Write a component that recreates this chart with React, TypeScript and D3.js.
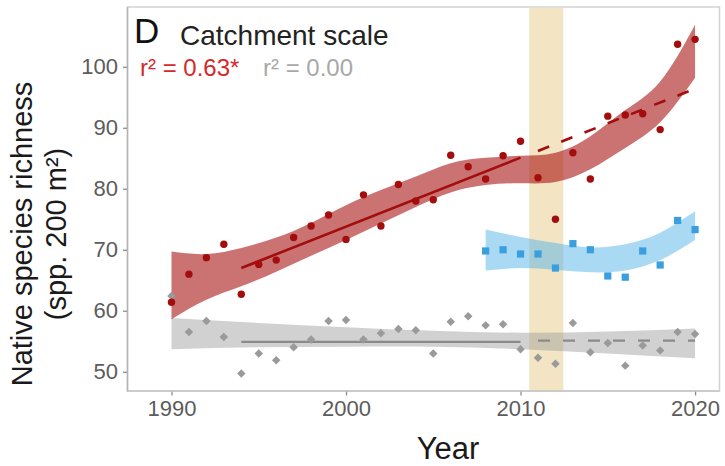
import { useEffect, useRef } from 'react'
import * as d3 from 'd3'

// Native species richness, catchment scale
const redYears = [1990, 1991, 1992, 1993, 1994, 1995, 1996, 1997, 1998, 1999, 2000, 2001, 2002, 2003, 2004, 2005, 2006, 2007, 2008, 2009, 2010, 2011, 2012, 2013, 2014, 2015, 2016, 2017, 2018, 2019, 2020]
const redValues = [61.4, 66.0, 68.7, 70.9, 62.7, 67.6, 68.3, 72.0, 73.9, 75.7, 71.7, 79.0, 73.9, 80.7, 78.0, 78.2, 85.5, 83.6, 81.6, 85.4, 87.8, 81.8, 75.0, 85.9, 81.6, 91.9, 92.1, 92.3, 89.7, 103.7, 104.5]

const grayYears = redYears
const grayValues = [62.4, 56.5, 58.3, 55.7, 49.7, 53.0, 51.9, 54.0, 55.3, 58.3, 58.5, 55.3, 56.3, 57.0, 56.8, 53.0, 58.2, 59.1, 57.6, 57.8, 53.7, 52.3, 51.3, 58.0, 53.2, 54.7, 51.0, 54.3, 53.5, 56.5, 56.2]

const blueYears = [2008, 2009, 2010, 2011, 2012, 2013, 2014, 2015, 2016, 2017, 2018, 2019, 2020]
const blueValues = [69.8, 70.0, 69.3, 69.3, 67.0, 71.0, 70.0, 65.7, 65.5, 69.8, 67.5, 74.8, 73.3]

// smoother confidence bands
const redBandYears = [1990, 1992, 1994, 1996, 1998, 2000, 2002, 2004, 2006, 2008, 2010, 2012, 2014, 2016, 2018, 2020]
const redBandLow = [58.6, 61.8, 64.0, 66.4, 69.0, 71.6, 74.3, 77.0, 79.4, 80.6, 80.9, 81.1, 83.2, 86.7, 90.9, 98.2]
const redBandHigh = [69.7, 69.3, 70.3, 72.0, 74.4, 77.3, 79.8, 82.0, 84.2, 85.1, 85.4, 85.9, 88.6, 92.9, 97.6, 106.9]

const blueBandYears = [2008, 2010, 2012, 2014, 2016, 2018, 2020]
const blueBandLow = [66.6, 67.0, 66.7, 66.3, 66.6, 68.3, 71.6]
const blueBandHigh = [73.3, 72.1, 71.1, 70.4, 70.9, 72.8, 76.3]

const grayBandYears = [1990, 1995, 2000, 2005, 2010, 2015, 2020]
const grayBandLow = [53.7, 54.0, 54.1, 54.1, 53.7, 53.0, 52.2]
const grayBandHigh = [58.8, 58.0, 57.3, 56.7, 56.4, 56.6, 57.1]

// linear trends: fitted period (solid) and projection (dashed)
const redTrendFit = [[1994, 67.0], [2010, 85.1]]
const redTrendProj = [[2011, 86.2], [2020, 96.4]]
const grayTrendFit = [[1994, 54.9], [2010, 54.9]]
const grayTrendProj = [[2011, 55.1], [2020, 55.1]]

const highlightYears = [2010.5, 2012.45]

const xTicks = [1990, 2000, 2010, 2020]
const yTicks = [50, 60, 70, 80, 90, 100]

const RED = '#a30d0d'
const BLUE = '#3a9fdf'
const GRAY = '#9a9a9a'
const FONT = '"Liberation Sans", Arial, Helvetica, sans-serif'

function App() {
  const ref = useRef<SVGSVGElement | null>(null)

  useEffect(() => {
    if (!ref.current) return
    const svg = d3.select(ref.current)
    svg.selectAll('*').remove()

    const left = 127.5, right = 719.5, top = 7, bottom = 391

    const x = d3.scaleLinear().domain([1987.48, 2021.4]).range([left, right])
    const y = d3.scaleLinear().domain([46.84, 109.8]).range([bottom, top])

    // panel background + border
    svg.append('rect')
      .attr('x', left).attr('y', top)
      .attr('width', right - left).attr('height', bottom - top)
      .attr('fill', 'white')
      .attr('stroke', '#d2d2d2')
      .attr('stroke-width', 1.5)

    // highlighted period
    svg.append('rect')
      .attr('x', x(highlightYears[0]))
      .attr('y', top + 0.75)
      .attr('width', x(highlightYears[1]) - x(highlightYears[0]))
      .attr('height', bottom - top - 1.5)
      .attr('fill', '#f3e5c3')

    const band = (years: number[], lo: number[], hi: number[], fill: string, op: number) => {
      const area = d3.area<number>()
        .x(i => x(years[i]))
        .y0(i => y(lo[i]))
        .y1(i => y(hi[i]))
        .curve(d3.curveNatural)
      svg.append('path')
        .attr('d', area(d3.range(years.length)))
        .attr('fill', fill)
        .attr('fill-opacity', op)
    }
    band(grayBandYears, grayBandLow, grayBandHigh, '#999999', 0.45)
    band(redBandYears, redBandLow, redBandHigh, '#a00000', 0.55)
    band(blueBandYears, blueBandLow, blueBandHigh, '#56b4e9', 0.5)

    const line = d3.line<number[]>().x(d => x(d[0])).y(d => y(d[1]))
    const trend = (pts: number[][], color: string, w: number, dash?: string) => {
      svg.append('path')
        .attr('d', line(pts))
        .attr('fill', 'none')
        .attr('stroke', color)
        .attr('stroke-width', w)
        .attr('stroke-dasharray', dash || null)
    }
    trend(grayTrendFit, '#8a8a8a', 2.2)
    trend(grayTrendProj, '#8a8a8a', 2.2, '12,13')
    trend(redTrendFit, RED, 2.6)
    trend(redTrendProj, RED, 2.6, '12,13')

    // points
    const diamond = d3.symbol().type(d3.symbolSquare).size(36)()
    svg.append('g').selectAll('path')
      .data(grayYears.map((yr, i) => [yr, grayValues[i]]))
      .enter().append('path')
      .attr('d', diamond)
      .attr('transform', d => `translate(${x(d[0])},${y(d[1])}) rotate(45)`)
      .attr('fill', GRAY)

    svg.append('g').selectAll('circle')
      .data(redYears.map((yr, i) => [yr, redValues[i]]))
      .enter().append('circle')
      .attr('cx', d => x(d[0]))
      .attr('cy', d => y(d[1]))
      .attr('r', 3.7)
      .attr('fill', RED)

    svg.append('g').selectAll('rect')
      .data(blueYears.map((yr, i) => [yr, blueValues[i]]))
      .enter().append('rect')
      .attr('x', d => x(d[0]) - 3.6)
      .attr('y', d => y(d[1]) - 3.6)
      .attr('width', 7.2)
      .attr('height', 7.2)
      .attr('fill', BLUE)

    // axes
    const yAxis = svg.append('g')
      .attr('class', 'axis')
      .attr('transform', `translate(${left},0)`)
      .call(d3.axisLeft(y).tickValues(yTicks).tickSize(4.5).tickPadding(5))
    const xAxis = svg.append('g')
      .attr('class', 'axis')
      .attr('transform', `translate(0,${bottom})`)
      .call(d3.axisBottom(x).tickValues(xTicks).tickFormat(d3.format('d')).tickSize(4.5).tickPadding(5))
    yAxis.select('.domain').remove()
    xAxis.select('.domain').remove()
    svg.append('line').attr('x1', left).attr('x2', left).attr('y1', top).attr('y2', bottom + 0.75)
      .attr('stroke', '#b3b3b3').attr('stroke-width', 1.5)
    svg.append('line').attr('x1', left).attr('x2', right).attr('y1', bottom).attr('y2', bottom)
      .attr('stroke', '#c4c4c4').attr('stroke-width', 1.5)

    svg.selectAll('.axis text')
      .attr('fill', '#5c5c5c')
      .attr('font-size', 22)
      .attr('font-family', FONT)
    svg.selectAll('.axis line')
      .attr('stroke', '#8c8c8c')
      .attr('stroke-width', 1.3)

    // labels
    svg.append('text')
      .attr('x', 134).attr('y', 43)
      .attr('font-size', 35).attr('font-family', FONT).attr('fill', '#111')
      .text('D')
    svg.append('text')
      .attr('x', 180).attr('y', 45)
      .attr('font-size', 28).attr('font-family', FONT).attr('fill', '#222')
      .text('Catchment scale')
    svg.append('text')
      .attr('x', 140).attr('y', 76)
      .attr('font-size', 24).attr('font-family', FONT).attr('fill', '#d42a2a')
      .text('r² = 0.63*')
    svg.append('text')
      .attr('x', 263).attr('y', 76)
      .attr('font-size', 24).attr('font-family', FONT).attr('fill', '#a8a8a8')
      .text('r² = 0.00')

    svg.append('text')
      .attr('x', 448).attr('y', 459)
      .attr('text-anchor', 'middle')
      .attr('font-size', 31).attr('font-family', FONT).attr('fill', '#1a1a1a')
      .text('Year')

    const yTitle = svg.append('g').attr('transform', 'translate(0,234) rotate(-90)')
    yTitle.append('text')
      .attr('x', 0).attr('y', 32)
      .attr('text-anchor', 'middle')
      .attr('font-size', 29).attr('font-family', FONT).attr('fill', '#1a1a1a')
      .text('Native species richness')
    yTitle.append('text')
      .attr('x', 0).attr('y', 66)
      .attr('text-anchor', 'middle')
      .attr('font-size', 29).attr('font-family', FONT).attr('fill', '#1a1a1a')
      .text('(spp. 200 m²)')
  }, [])

  return (
    <div style={{ position: 'absolute', left: 0, top: 0 }}>
      <svg ref={ref} width={725} height={466} style={{ display: 'block', background: 'white' }} />
    </div>
  )
}

export default App
